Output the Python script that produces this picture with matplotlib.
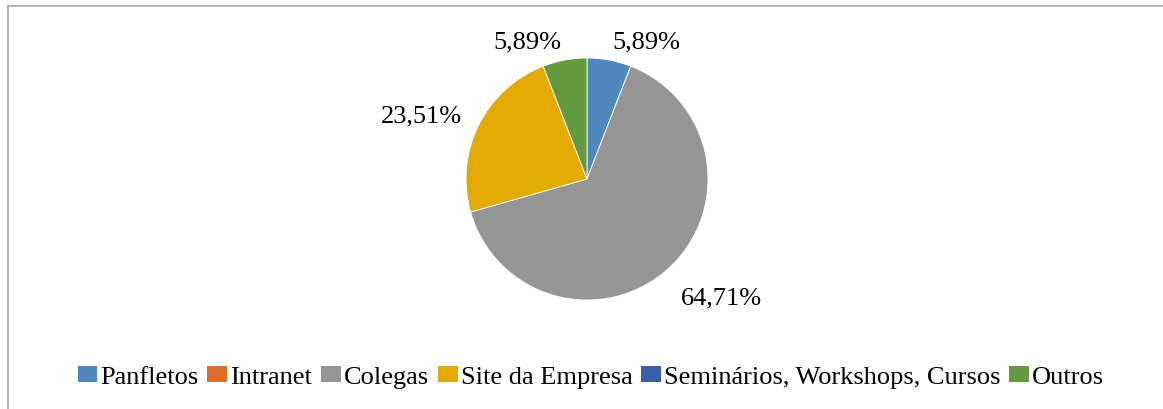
import numpy as np
import matplotlib
matplotlib.use('Agg')
import matplotlib.pyplot as plt
from matplotlib.patches import Patch
from matplotlib.lines import Line2D

# Dados
categorias = ['Panfletos', 'Intranet', 'Colegas', 'Site da Empresa',
              'Seminários, Workshops, Cursos', 'Outros']
valores = [5.89, 0.0, 64.71, 23.51, 0.0, 5.89]
rotulos = ['5,89%', '', '64,71%', '23,51%', '', '5,89%']
cores = ['#4F88BF', '#D8702C', '#959595', '#E3AB00', '#3B5FAD', '#639A3F']

plt.rcParams['font.family'] = ['Liberation Serif', 'DejaVu Serif']
fs = 19

W, H = 1163, 410
fig = plt.figure(figsize=(W / 100, H / 100), dpi=100)

# eixo do gráfico: 1 unidade = 121 px, centro em (587, 180)
cx, cy, r = 587, 180, 121
ax = fig.add_axes([(cx - 2 * r) / W, (H - cy - 2 * r) / H, 4 * r / W, 4 * r / H])
wedges, _ = ax.pie(valores, colors=cores, startangle=90, counterclock=False,
                   radius=1, wedgeprops=dict(edgecolor='white', linewidth=0.6))
ax.set_xlim(-2, 2)
ax.set_ylim(-2, 2)
ax.set_aspect('equal')
ax.axis('off')

# rótulos fora das fatias
for w, txt in zip(wedges, rotulos):
    if not txt:
        continue
    ang = np.deg2rad((w.theta1 + w.theta2) / 2)
    c, s = np.cos(ang), np.sin(ang)
    d = 1.15
    y = d * s + np.sign(s) * 0.07 - 0.06
    ax.text(d * c, y, txt, fontsize=fs,
            ha='left' if c > 0 else 'right', va='center')

# moldura
cor_borda = '#A6A6A6'
fig.add_artist(Line2D([8 / W, 1], [1 - 7 / H, 1 - 7 / H], color=cor_borda, lw=1.2))
fig.add_artist(Line2D([8 / W, 8 / W], [0, 1 - 7 / H], color=cor_borda, lw=1.2))

# legenda
handles = [Patch(facecolor=c, edgecolor='none') for c in cores]
fig.legend(handles, categorias, loc='center', ncol=6, frameon=False,
           bbox_to_anchor=(591 / W, 1 - 378 / H), fontsize=fs,
           handlelength=0.75, handleheight=0.6, handletextpad=0.12,
           columnspacing=0.33, borderaxespad=0)

fig.savefig('out.png', dpi=100)
